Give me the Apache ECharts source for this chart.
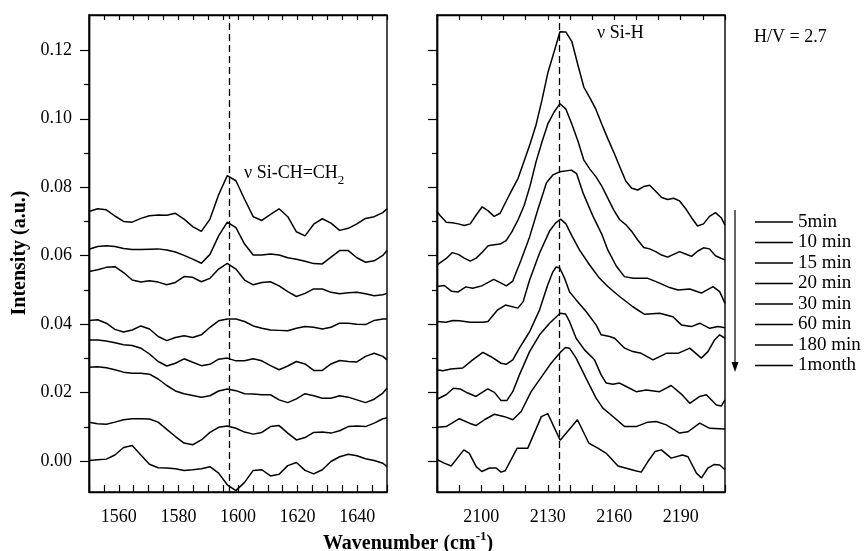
<!DOCTYPE html>
<html><head><meta charset="utf-8">
<script src="https://cdn.jsdelivr.net/npm/echarts@6/dist/echarts.min.js"></script>
<style>html,body{margin:0;padding:0;background:#fff}#c{width:865px;height:551px}</style>
</head><body><div id="c"></div>
<script>
// ---------- DATA ----------
const seriesNames = ['5min', '10 min', '15 min', '20 min', '30 min', '60 min', '180 min', '1month'];

// Left panel: nu Si-CH=CH2 region
const leftX = [1550, 1552.9, 1555.8, 1558.7, 1561.6, 1564.5, 1567.4, 1570.3, 1573.2, 1576.1, 1579.0, 1581.9, 1584.8, 1587.7, 1590.6, 1593.5, 1596.4, 1599.3, 1602.2, 1605.1, 1608.0, 1610.9, 1613.8, 1616.7, 1619.6, 1622.5, 1625.4, 1628.3, 1631.2, 1634.1, 1637.0, 1639.9, 1642.8, 1645.7, 1648.6, 1650];
const L_5min   = [0.0729, 0.0737, 0.0734, 0.0716, 0.0700, 0.0698, 0.0709, 0.0717, 0.0719, 0.0718, 0.0724, 0.0707, 0.0685, 0.0671, 0.0707, 0.0778, 0.0834, 0.0819, 0.0765, 0.0714, 0.0703, 0.0721, 0.0737, 0.0714, 0.0670, 0.0658, 0.0692, 0.0708, 0.0695, 0.0674, 0.0680, 0.0693, 0.0709, 0.0714, 0.0726, 0.0737];
const L_10min  = [0.0619, 0.0627, 0.0629, 0.0627, 0.0621, 0.0618, 0.0618, 0.0619, 0.0620, 0.0617, 0.0611, 0.0601, 0.0590, 0.0578, 0.0604, 0.0658, 0.0698, 0.0682, 0.0634, 0.0602, 0.0602, 0.0605, 0.0602, 0.0594, 0.0590, 0.0584, 0.0577, 0.0576, 0.0596, 0.0615, 0.0615, 0.0594, 0.0581, 0.0585, 0.0601, 0.0615];
const L_15min  = [0.0554, 0.0559, 0.0566, 0.0568, 0.0551, 0.0529, 0.0523, 0.0527, 0.0523, 0.0515, 0.0522, 0.0539, 0.0537, 0.0524, 0.0534, 0.0561, 0.0578, 0.0561, 0.0529, 0.0515, 0.0522, 0.0524, 0.0512, 0.0495, 0.0481, 0.0490, 0.0503, 0.0503, 0.0493, 0.0489, 0.0492, 0.0493, 0.0489, 0.0483, 0.0486, 0.0490];
const L_20min  = [0.0411, 0.0413, 0.0403, 0.0385, 0.0377, 0.0383, 0.0395, 0.0386, 0.0364, 0.0352, 0.0361, 0.0366, 0.0361, 0.0369, 0.0391, 0.0410, 0.0415, 0.0415, 0.0408, 0.0395, 0.0388, 0.0383, 0.0382, 0.0381, 0.0388, 0.0393, 0.0391, 0.0386, 0.0391, 0.0403, 0.0403, 0.0400, 0.0399, 0.0411, 0.0415, 0.0415];
const L_30min  = [0.0354, 0.0354, 0.0351, 0.0346, 0.0340, 0.0338, 0.0330, 0.0313, 0.0291, 0.0278, 0.0286, 0.0299, 0.0289, 0.0279, 0.0283, 0.0298, 0.0301, 0.0293, 0.0293, 0.0299, 0.0293, 0.0279, 0.0267, 0.0278, 0.0291, 0.0284, 0.0265, 0.0265, 0.0284, 0.0294, 0.0291, 0.0290, 0.0306, 0.0315, 0.0306, 0.0296];
const L_60min  = [0.0274, 0.0276, 0.0273, 0.0267, 0.0260, 0.0257, 0.0257, 0.0254, 0.0240, 0.0221, 0.0205, 0.0197, 0.0192, 0.0187, 0.0191, 0.0205, 0.0211, 0.0206, 0.0197, 0.0196, 0.0194, 0.0194, 0.0179, 0.0171, 0.0182, 0.0197, 0.0191, 0.0184, 0.0184, 0.0191, 0.0187, 0.0179, 0.0171, 0.0181, 0.0199, 0.0213];
const L_180min = [0.0114, 0.0109, 0.0108, 0.0114, 0.0121, 0.0124, 0.0124, 0.0123, 0.0114, 0.0093, 0.0072, 0.0053, 0.0048, 0.0062, 0.0084, 0.0099, 0.0103, 0.0096, 0.0085, 0.0079, 0.0084, 0.0101, 0.0104, 0.0082, 0.0062, 0.0069, 0.0084, 0.0085, 0.0082, 0.0089, 0.0101, 0.0103, 0.0101, 0.0111, 0.0124, 0.0126];
const L_1month = [0.0002, 0.0004, 0.0006, 0.0018, 0.0040, 0.0046, 0.0018, -0.0009, -0.0019, -0.0020, -0.0022, -0.0027, -0.0025, -0.0022, -0.0016, -0.0035, -0.0069, -0.0086, -0.0062, -0.0027, -0.0025, -0.0043, -0.0038, -0.0013, -0.0004, -0.0027, -0.0037, -0.0025, -0.0001, 0.0013, 0.0020, 0.0016, 0.0007, 0.0002, -0.0006, -0.0016];

// Right panel: nu Si-H region
const R_gridX = [2080, 2081.5, 2084.2, 2086.9, 2089.6, 2092.3, 2095.0, 2097.7, 2100.4, 2103.1, 2105.8, 2108.5, 2111.2, 2113.9, 2116.6, 2119.3, 2122.0, 2124.7, 2127.4, 2130.1, 2132.8, 2135.5, 2138.2, 2140.9, 2143.6, 2146.3, 2149.0, 2151.7, 2154.4, 2157.1, 2159.8, 2162.5, 2165.2, 2167.9, 2170.6, 2173.3, 2176.0, 2178.7, 2181.4, 2184.1, 2186.8, 2189.5, 2192.2, 2194.9, 2197.6, 2200.3, 2203.0, 2205.7, 2208.4, 2210];
const R_5min   = [0.0729, 0.0717, 0.0698, 0.0696, 0.0693, 0.0688, 0.0693, 0.0719, 0.0743, 0.0731, 0.0715, 0.0724, 0.0759, 0.0793, 0.0826, 0.0876, 0.0926, 0.0982, 0.1055, 0.1136, 0.1194, 0.1254, 0.1253, 0.1225, 0.1157, 0.1092, 0.1061, 0.1028, 0.0984, 0.0942, 0.0902, 0.0860, 0.0818, 0.0797, 0.0792, 0.0802, 0.0806, 0.0788, 0.0770, 0.0764, 0.0768, 0.0760, 0.0738, 0.0711, 0.0687, 0.0693, 0.0715, 0.0726, 0.0710, 0.0689];
const R_10min  = [0.0573, 0.0580, 0.0592, 0.0609, 0.0604, 0.0593, 0.0584, 0.0593, 0.0610, 0.0629, 0.0632, 0.0634, 0.0644, 0.0671, 0.0705, 0.0746, 0.0804, 0.0874, 0.0933, 0.0986, 0.1019, 0.1044, 0.1028, 0.0984, 0.0935, 0.0879, 0.0853, 0.0831, 0.0803, 0.0768, 0.0733, 0.0705, 0.0691, 0.0671, 0.0646, 0.0624, 0.0620, 0.0612, 0.0602, 0.0596, 0.0604, 0.0612, 0.0605, 0.0598, 0.0613, 0.0623, 0.0620, 0.0600, 0.0592, 0.0588];
const R_15min_x = [2080, 2083.3, 2086.6, 2089.4, 2093.0, 2096.1, 2100.2, 2105.6, 2108.3, 2111.3, 2114.2, 2118.0, 2121.8, 2125.5, 2129.4, 2132.3, 2135.4, 2140.7, 2143.0, 2146.0, 2150.5, 2154.3, 2157.1, 2160.9, 2164.6, 2168.6, 2175.2, 2180.5, 2185.0, 2188.8, 2194.1, 2199.3, 2204.6, 2207.6, 2210];
const R_15min   = [0.0510, 0.0513, 0.0496, 0.0494, 0.0509, 0.0505, 0.0512, 0.0531, 0.0522, 0.0512, 0.0526, 0.0588, 0.0655, 0.0734, 0.0813, 0.0836, 0.0845, 0.0850, 0.0840, 0.0782, 0.0714, 0.0664, 0.0617, 0.0570, 0.0539, 0.0534, 0.0534, 0.0520, 0.0507, 0.0500, 0.0503, 0.0491, 0.0510, 0.0495, 0.0461];
const R_20min_x = [2080, 2084.1, 2087.2, 2090.1, 2094.9, 2100.7, 2103.0, 2107.4, 2110.9, 2116.5, 2118.9, 2121.8, 2126.3, 2130.8, 2133.6, 2135.8, 2138.2, 2140.9, 2144.3, 2148.9, 2153.4, 2157.1, 2162.4, 2168.4, 2173.7, 2180.5, 2186.5, 2190.3, 2194.8, 2198.6, 2203.1, 2206.8, 2210];
const R_20min   = [0.0408, 0.0406, 0.0411, 0.0410, 0.0406, 0.0406, 0.0408, 0.0442, 0.0456, 0.0447, 0.0466, 0.0529, 0.0608, 0.0672, 0.0696, 0.0707, 0.0693, 0.0658, 0.0617, 0.0573, 0.0534, 0.0510, 0.0481, 0.0451, 0.0429, 0.0432, 0.0422, 0.0398, 0.0393, 0.0403, 0.0388, 0.0393, 0.0390];
const R_30min_x = [2080, 2082.6, 2086.3, 2091.6, 2096.1, 2100.7, 2104.4, 2108.9, 2111.2, 2114.2, 2117.2, 2121.8, 2126.3, 2130.0, 2132.3, 2133.8, 2135.4, 2137.6, 2139.8, 2142.8, 2147.3, 2151.8, 2154.1, 2157.9, 2160.2, 2164.7, 2168.4, 2172.2, 2177.5, 2183.5, 2188.8, 2194.1, 2199.3, 2202.3, 2205.3, 2207.6, 2210];
const R_30min   = [0.0267, 0.0264, 0.0269, 0.0272, 0.0296, 0.0318, 0.0305, 0.0286, 0.0283, 0.0296, 0.0330, 0.0378, 0.0442, 0.0515, 0.0553, 0.0567, 0.0564, 0.0534, 0.0495, 0.0471, 0.0437, 0.0398, 0.0369, 0.0364, 0.0359, 0.0330, 0.0320, 0.0315, 0.0296, 0.0315, 0.0315, 0.0330, 0.0301, 0.0320, 0.0354, 0.0369, 0.0359];
const R_60min_x = [2080, 2084.1, 2087.4, 2090.4, 2093.9, 2097.6, 2102.9, 2105.9, 2108.9, 2111.5, 2114.2, 2117.2, 2121.8, 2126.3, 2130.8, 2135.6, 2138.0, 2139.8, 2142.8, 2146.6, 2151.1, 2154.1, 2156.4, 2159.4, 2162.4, 2165.4, 2169.9, 2174.4, 2180.5, 2185.7, 2190.3, 2194.1, 2198.6, 2201.6, 2206.1, 2208.3, 2210];
const R_60min   = [0.0181, 0.0194, 0.0213, 0.0211, 0.0199, 0.0189, 0.0211, 0.0201, 0.0177, 0.0177, 0.0203, 0.0252, 0.0320, 0.0369, 0.0403, 0.0432, 0.0430, 0.0408, 0.0359, 0.0325, 0.0296, 0.0252, 0.0228, 0.0225, 0.0228, 0.0218, 0.0203, 0.0208, 0.0203, 0.0221, 0.0196, 0.0169, 0.0189, 0.0194, 0.0164, 0.0161, 0.0179];
const R_180min_x = [2080, 2084.1, 2090.1, 2094.6, 2097.6, 2101.4, 2105.9, 2110.5, 2114.2, 2118.0, 2122.5, 2127.8, 2131.5, 2136.0, 2138.0, 2139.8, 2142.8, 2147.3, 2151.8, 2154.9, 2160.2, 2164.7, 2169.9, 2175.2, 2179.0, 2183.5, 2189.5, 2193.3, 2198.6, 2203.1, 2210];
const R_180min   = [0.0099, 0.0101, 0.0124, 0.0111, 0.0104, 0.0121, 0.0137, 0.0130, 0.0121, 0.0145, 0.0203, 0.0252, 0.0286, 0.0320, 0.0332, 0.0330, 0.0301, 0.0242, 0.0184, 0.0155, 0.0126, 0.0101, 0.0101, 0.0114, 0.0116, 0.0106, 0.0082, 0.0086, 0.0111, 0.0096, 0.0094];
const R_1month_x = [2080, 2083.0, 2086.4, 2092.1, 2094.6, 2097.7, 2100.2, 2103.7, 2106.7, 2108.9, 2110.8, 2116.2, 2121.0, 2127.1, 2130.0, 2135.6, 2143.4, 2148.5, 2152.6, 2156.4, 2161.7, 2169.6, 2172.2, 2175.2, 2178.4, 2181.3, 2185.7, 2190.8, 2193.3, 2197.1, 2199.4, 2202.3, 2205.0, 2207.6, 2210];
const R_1month   = [0.0005, -0.0005, -0.0014, 0.0033, 0.0023, -0.0016, -0.0030, -0.0020, -0.0020, -0.0032, -0.0028, 0.0038, 0.0038, 0.0130, 0.0139, 0.0061, 0.0121, 0.0053, 0.0038, 0.0023, -0.0014, -0.0028, -0.0032, -0.0001, 0.0028, 0.0033, 0.0009, 0.0018, 0.0013, -0.0035, -0.0049, -0.0020, -0.0010, -0.0011, -0.0025];

// Peak reference positions (dashed lines)
const peakLeft = [1597];
const peakRight = [2135.4];

// Axis ranges & ticks
const yRange = [-0.009, 0.1303];
const yMajorTicks = [0, 0.02, 0.04, 0.06, 0.08, 0.10, 0.12];
const yMinorTicks = [0.01, 0.03, 0.05, 0.07, 0.09, 0.11];
const xLeftRange = [1550, 1650];
const xLeftTicks = [1550, 1555, 1560, 1565, 1570, 1575, 1580, 1585, 1590, 1595, 1600, 1605, 1610, 1615, 1620, 1625, 1630, 1635, 1640, 1645, 1650];
const xLeftLabels = [1560, 1580, 1600, 1620, 1640];
const xRightRange = [2080, 2210];
const xRightTicks = [2080, 2090, 2100, 2110, 2120, 2130, 2140, 2150, 2160, 2170, 2180, 2190, 2200, 2210];
const xRightLabels = [2100, 2130, 2160, 2190];

// ---------- CHART ----------
const FONT = "'Liberation Serif','Times New Roman',serif";
const BLACK = '#000';
const LW = 1.5;
const chart = echarts.init(document.getElementById('c'), null, {renderer: 'canvas'});

const leftData = [L_5min, L_10min, L_15min, L_20min, L_30min, L_60min, L_180min, L_1month];
const rightPairs = [
  [R_gridX, R_5min], [R_gridX, R_10min], [R_15min_x, R_15min], [R_20min_x, R_20min],
  [R_30min_x, R_30min], [R_60min_x, R_60min], [R_180min_x, R_180min], [R_1month_x, R_1month]
];
const zip = (xs, ys) => xs.map((x, i) => [x, ys[i]]);

const axisLine = {show: true, onZero: false, lineStyle: {color: BLACK, width: 1.4}};

function xBottom(gi, range, ticks, labels) {
  return {
    type: 'value', gridIndex: gi, position: 'bottom', min: range[0], max: range[1],
    axisLine: axisLine, splitLine: {show: false},
    axisTick: {show: true, inside: true, length: 7, customValues: ticks, lineStyle: {color: BLACK, width: 1.2}},
    axisLabel: {show: true, customValues: labels, margin: 16, fontFamily: FONT, fontSize: 18, color: BLACK,
      formatter: v => String(Math.round(v))}
  };
}
function xTop(gi, range, ticks) {
  return {
    type: 'value', gridIndex: gi, position: 'top', min: range[0], max: range[1],
    axisLine: axisLine, splitLine: {show: false},
    axisTick: {show: true, inside: true, length: 5, customValues: ticks, lineStyle: {color: BLACK, width: 1.2}},
    axisLabel: {show: false}
  };
}
function yMajor(gi, showLabels) {
  return {
    type: 'value', gridIndex: gi, position: 'left', min: yRange[0], max: yRange[1],
    axisLine: axisLine, splitLine: {show: false},
    axisTick: {show: true, inside: false, length: 9, customValues: yMajorTicks, lineStyle: {color: BLACK, width: 1.2}},
    axisLabel: {show: showLabels, customValues: yMajorTicks, margin: 17, fontFamily: FONT, fontSize: 18, color: BLACK,
      formatter: v => v.toFixed(2)}
  };
}
function yMinor(gi) {
  return {
    type: 'value', gridIndex: gi, position: 'left', offset: 0, min: yRange[0], max: yRange[1],
    axisLine: axisLine, splitLine: {show: false},
    axisTick: {show: true, inside: false, length: 5, customValues: yMinorTicks, lineStyle: {color: BLACK, width: 1.2}},
    axisLabel: {show: false}
  };
}

const series = [];
leftData.forEach((ys, i) => {
  const s = {
    type: 'line', name: seriesNames[i], xAxisIndex: 0, yAxisIndex: 0,
    data: zip(leftX, ys), symbol: 'none', showSymbol: false, clip: true,
    lineStyle: {color: BLACK, width: LW}, itemStyle: {color: BLACK}, animation: false
  };
  if (i === 0) s.markLine = {
    silent: true, symbol: 'none', label: {show: false},
    lineStyle: {color: BLACK, width: 1.3, type: [7, 4]},
    data: peakLeft.map(v => ({xAxis: v}))
  };
  series.push(s);
});
rightPairs.forEach((p, i) => {
  const s = {
    type: 'line', name: seriesNames[i], xAxisIndex: 2, yAxisIndex: 2,
    data: zip(p[0], p[1]), symbol: 'none', showSymbol: false, clip: true,
    lineStyle: {color: BLACK, width: LW}, itemStyle: {color: BLACK}, animation: false
  };
  if (i === 0) s.markLine = {
    silent: true, symbol: 'none', label: {show: false},
    lineStyle: {color: BLACK, width: 1.3, type: [7, 4]},
    data: peakRight.map(v => ({xAxis: v}))
  };
  series.push(s);
});

const option = {
  animation: false,
  backgroundColor: '#fff',
  color: [BLACK],
  grid: [
    {left: 89, top: 15, width: 298, height: 477, show: true, borderColor: BLACK, borderWidth: 1.4, backgroundColor: 'transparent'},
    {left: 437, top: 15, width: 288, height: 477, show: true, borderColor: BLACK, borderWidth: 1.4, backgroundColor: 'transparent'}
  ],
  xAxis: [
    xBottom(0, xLeftRange, xLeftTicks, xLeftLabels),
    xTop(0, xLeftRange, xLeftTicks),
    xBottom(1, xRightRange, xRightTicks, xRightLabels),
    xTop(1, xRightRange, xRightTicks)
  ],
  yAxis: [yMajor(0, true), yMinor(0), yMajor(1, false), yMinor(1)],
  legend: {
    show: true, orient: 'vertical', left: 750, top: 207, itemWidth: 38, itemHeight: 1.5,
    icon: 'rect', itemGap: 0.5, selectedMode: false, data: seriesNames,
    textStyle: {fontFamily: FONT, fontSize: 19, color: BLACK, lineHeight: 20}
  },
  graphic: [
    {type: 'text', x: 244, y: 173, style: {
      text: '{a|ν Si-CH=CH}{s|2}', fill: BLACK, align: 'left', verticalAlign: 'middle',
      rich: {a: {fontFamily: FONT, fontSize: 18, lineHeight: 28, fill: BLACK},
             s: {fontFamily: FONT, fontSize: 13, lineHeight: 13, verticalAlign: 'bottom', fill: BLACK}}
    }},
    {type: 'text', x: 597, y: 33, style: {text: 'ν Si-H', fill: BLACK, fontFamily: FONT, fontSize: 18, align: 'left', verticalAlign: 'middle'}},
    {type: 'text', x: 754, y: 37, style: {text: 'H/V = 2.7', fill: BLACK, fontFamily: FONT, fontSize: 18, align: 'left', verticalAlign: 'middle'}},
    {type: 'line', shape: {x1: 735, y1: 210, x2: 735, y2: 366}, style: {stroke: BLACK, lineWidth: 1.2}},
    {type: 'polygon', shape: {points: [[731.5, 362], [738.5, 362], [735, 372]]}, style: {fill: BLACK}},
    {type: 'text', x: 408, y: 544, style: {
      text: '{a|Wavenumber (cm}{s|-1}{a|)}', fill: BLACK, align: 'center', verticalAlign: 'middle',
      rich: {a: {fontFamily: FONT, fontSize: 20, fontWeight: 'bold', lineHeight: 28, fill: BLACK},
             s: {fontFamily: FONT, fontSize: 13, fontWeight: 'bold', lineHeight: 13, verticalAlign: 'top', fill: BLACK}}
    }},
    {type: 'text', x: 20, y: 253, rotation: Math.PI / 2, style: {
      text: 'Intensity (a.u.)', fill: BLACK, fontFamily: FONT, fontSize: 20, fontWeight: 'bold', align: 'center', verticalAlign: 'middle'}}
  ],
  series: series
};
chart.setOption(option);
</script></body></html>
